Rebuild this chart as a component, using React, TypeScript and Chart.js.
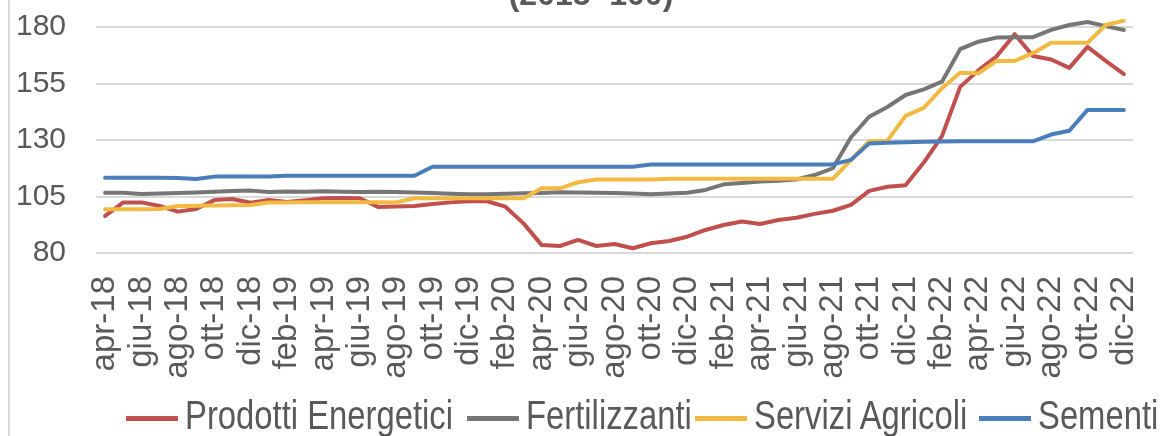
import React, { useEffect, useRef } from "react";
import { Chart, registerables } from "chart.js";

Chart.register(...registerables);

const months: string[] = [
  "apr-18", "mag-18", "giu-18", "lug-18", "ago-18", "set-18", "ott-18", "nov-18", "dic-18",
  "gen-19", "feb-19", "mar-19", "apr-19", "mag-19", "giu-19", "lug-19", "ago-19", "set-19", "ott-19", "nov-19", "dic-19",
  "gen-20", "feb-20", "mar-20", "apr-20", "mag-20", "giu-20", "lug-20", "ago-20", "set-20", "ott-20", "nov-20", "dic-20",
  "gen-21", "feb-21", "mar-21", "apr-21", "mag-21", "giu-21", "lug-21", "ago-21", "set-21", "ott-21", "nov-21", "dic-21",
  "gen-22", "feb-22", "mar-22", "apr-22", "mag-22", "giu-22", "lug-22", "ago-22", "set-22", "ott-22", "nov-22", "dic-22",
];

const prodottiEnergetici: number[] = [
  96.4, 102.4, 102.4, 100.8, 98.3, 99.5, 103.4, 103.9, 102.2, 103.5, 102.6, 103.4, 104.2, 104.3, 104.2, 100.4, 100.6,
  100.8, 101.7, 102.4, 102.9, 102.9, 100.5, 93.1, 83.5, 83.1, 85.8, 83.1, 84.0, 82.1, 84.3, 85.3, 87.2,
  90.2, 92.4, 93.9, 92.8, 94.6, 95.6, 97.3, 98.7, 101.3, 107.5, 109.3, 110.0, 120.0, 131.7, 153.5,
  160.8, 167.0, 176.8, 167.2, 165.6, 161.9, 171.2, 165.0, 159.2,
];

const fertilizzanti: number[] = [
  106.7, 106.7, 106.1, 106.3, 106.5, 106.8, 107.1, 107.4, 107.6, 107.0, 107.2, 107.1, 107.3, 107.1, 107.0, 107.1, 107.0,
  106.8, 106.5, 106.2, 106.0, 106.0, 106.2, 106.4, 106.6, 106.9, 106.8, 106.7, 106.5, 106.3, 106.0, 106.3, 106.7,
  107.9, 110.4, 111.0, 111.6, 112.0, 112.5, 114.5, 117.5, 131.2, 140.3, 144.6, 149.9, 152.4, 155.8, 170.2,
  173.5, 175.3, 175.5, 175.5, 178.7, 180.9, 182.2, 180.4, 178.7,
];

const serviziAgricoli: number[] = [
  99.4, 99.4, 99.4, 99.5, 100.8, 100.9, 101.0, 101.1, 101.2, 102.3, 102.4, 102.5, 102.5, 102.5, 102.5, 102.5, 102.4,
  104.2, 104.2, 104.2, 104.2, 104.2, 104.2, 104.2, 108.6, 108.6, 111.3, 112.5, 112.5, 112.5, 112.5, 112.8, 112.8,
  112.8, 112.8, 112.8, 112.8, 112.8, 112.8, 112.8, 112.8, 121.2, 129.5, 129.7, 140.7, 144.2, 152.9, 159.8,
  159.5, 165.0, 165.0, 168.4, 173.0, 173.0, 173.0, 180.9, 182.8,
];

const sementi: number[] = [
  113.3, 113.3, 113.3, 113.3, 113.2, 112.7, 113.8, 113.8, 113.8, 113.9, 114.2, 114.2, 114.2, 114.2, 114.2, 114.2, 114.2,
  114.2, 118.2, 118.2, 118.2, 118.2, 118.2, 118.2, 118.2, 118.2, 118.2, 118.2, 118.2, 118.2, 119.2, 119.2, 119.2,
  119.2, 119.2, 119.2, 119.2, 119.2, 119.2, 119.2, 119.2, 121.2, 128.5, 128.8, 129.0, 129.2, 129.3, 129.4,
  129.4, 129.4, 129.4, 129.4, 132.4, 134.1, 143.3, 143.3, 143.3,
];

const seriesNames: string[] = ["Prodotti Energetici", "Fertilizzanti", "Servizi Agricoli", "Sementi"];
const seriesColors: string[] = ["#C0504D", "#767676", "#F2BA42", "#4A7EBB"];
const seriesValues: number[][] = [prodottiEnergetici, fertilizzanti, serviziAgricoli, sementi];

const yMin = 80;
const yMax = 180;
const yStep = 25;
const titleText = "(2015=100)";

const TEXT_COLOR = "#595959";
const GRID_COLOR = "#D9D9D9";
const LEGEND_LEFTS = [126, 467, 695, 979];

export default function App() {
  const canvasRef = useRef<HTMLCanvasElement | null>(null);

  useEffect(() => {
    const canvas = canvasRef.current;
    if (!canvas) return;
    const chart = new Chart(canvas, {
      type: "line",
      data: {
        labels: months,
        datasets: seriesValues.map((vals, i) => ({
          label: seriesNames[i],
          data: vals,
          borderColor: seriesColors[i],
          backgroundColor: seriesColors[i],
          borderWidth: 4,
          pointRadius: 0,
          pointHoverRadius: 0,
          tension: 0,
          fill: false,
          clip: false as const,
          borderJoinStyle: "round" as const,
          borderCapStyle: "round" as const,
          order: seriesValues.length - i,
        })),
      },
      options: {
        animation: false,
        responsive: false,
        devicePixelRatio: 1,
        events: [],
        layout: { padding: { top: 27, right: 29, left: 0, bottom: 0 } },
        plugins: {
          legend: { display: false },
          title: { display: false },
          tooltip: { enabled: false },
        },
        scales: {
          x: {
            type: "category",
            offset: true,
            grid: { display: false, drawTicks: false },
            border: { display: false },
            ticks: {
              autoSkip: false,
              maxRotation: 90,
              minRotation: 90,
              padding: 23,
              color: TEXT_COLOR,
              font: { family: "'Liberation Sans', Arial, sans-serif", size: 33 },
              callback: (_v: any, i: number) => (i % 2 === 0 ? months[i] : ""),
            },
            afterFit: (axis: any) => {
              axis.height = 183;
              axis.paddingLeft = 0;
              axis.paddingRight = 0;
              axis.paddingTop = 0;
              axis.paddingBottom = 0;
            },
          },
          y: {
            min: yMin,
            max: yMax,
            grid: { color: GRID_COLOR, lineWidth: 2, drawTicks: false },
            border: { display: false },
            ticks: {
              stepSize: yStep,
              padding: 30,
              color: TEXT_COLOR,
              font: { family: "'Liberation Sans', Arial, sans-serif", size: 30 },
            },
            afterFit: (axis: any) => {
              axis.width = 96;
              axis.paddingTop = 0;
              axis.paddingBottom = 0;
              axis.paddingLeft = 0;
              axis.paddingRight = 0;
            },
          },
        },
      },
    });
    return () => chart.destroy();
  }, []);

  return (
    <div
      style={{
        position: "fixed",
        left: 0,
        top: 0,
        width: 1162,
        height: 436,
        overflow: "hidden",
        background: "#FFFFFF",
      }}
    >
      <canvas ref={canvasRef} width={1162} height={436} style={{ position: "absolute", left: 0, top: 0 }} />
      <div
        style={{
          position: "absolute",
          left: 0,
          top: -22,
          width: 1182,
          textAlign: "center",
          fontFamily: "'Liberation Sans', Arial, sans-serif",
          fontWeight: "bold",
          fontSize: 32,
          lineHeight: "32px",
          color: TEXT_COLOR,
          whiteSpace: "nowrap",
        }}
      >
        {titleText}
      </div>
      <div style={{ position: "absolute", left: 8, top: 0, width: 2, height: 436, background: GRID_COLOR }} />
      {seriesNames.map((name, i) => (
        <div
          key={name}
          style={{
            position: "absolute",
            left: LEGEND_LEFTS[i],
            top: 395,
            display: "flex",
            alignItems: "flex-start",
            whiteSpace: "nowrap",
          }}
        >
          <div style={{ width: 52, height: 5, marginTop: 21, background: seriesColors[i], flex: "none" }} />
          <div
            style={{
              marginLeft: 7,
              fontFamily: "'Liberation Sans', Arial, sans-serif",
              fontSize: 41,
              lineHeight: "41px",
              color: TEXT_COLOR,
              transform: "scaleX(0.8)",
              transformOrigin: "0 0",
            }}
          >
            {name}
          </div>
        </div>
      ))}
    </div>
  );
}
